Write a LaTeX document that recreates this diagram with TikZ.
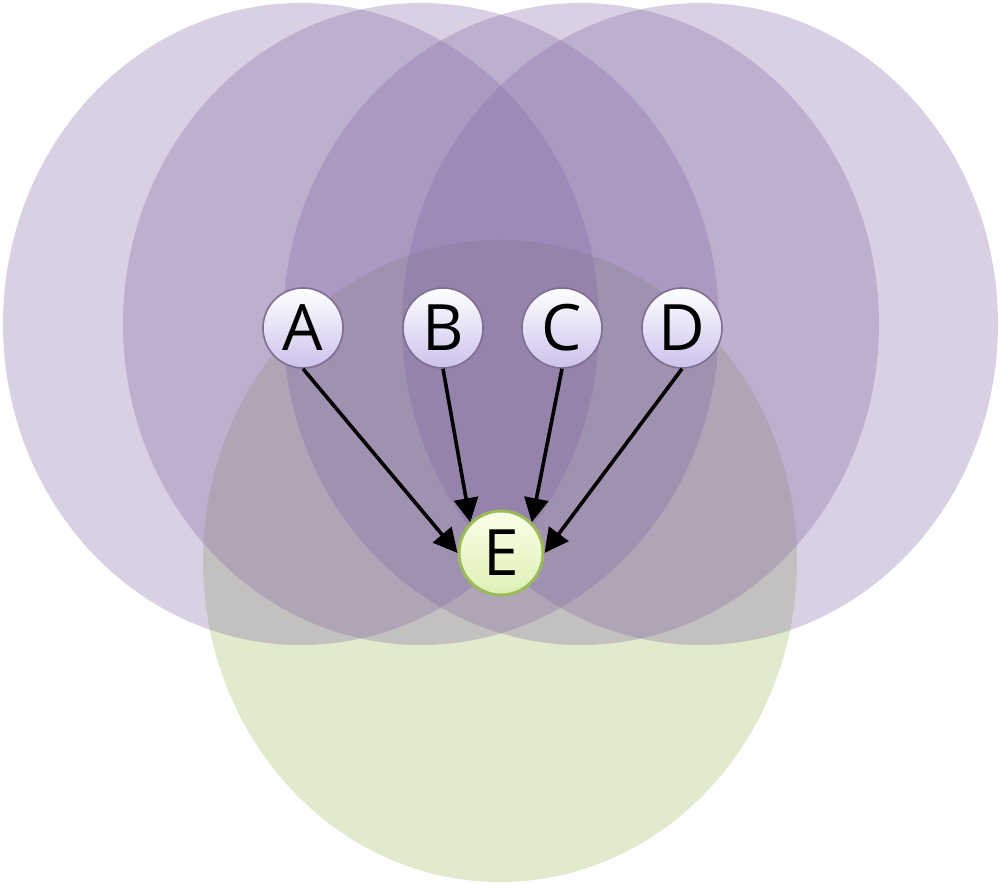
\documentclass[tikz,border=0pt]{standalone}
\usepackage{fontspec}
\setmainfont{Open Sans}
\usetikzlibrary{arrows.meta}
\definecolor{purp}{RGB}{128,100,162}
\definecolor{grn}{RGB}{155,187,89}
\definecolor{nodeline}{RGB}{125,110,145}
\definecolor{nodelow}{RGB}{205,194,236}
\definecolor{etop}{RGB}{250,255,232}
\definecolor{elow}{RGB}{222,240,180}
\begin{document}
\begin{tikzpicture}[x=0.5pt,y=-0.5pt,
  blobp/.style={fill=purp, opacity=0.3},
  blobg/.style={fill=grn, opacity=0.3},
  vnode/.style={circle, minimum size=40pt, inner sep=0pt, draw=nodeline, line width=0.8pt,
    top color=white, bottom color=nodelow, font=\fontsize{32}{36}\selectfont},
  enode/.style={circle, minimum size=42pt, inner sep=0pt, draw=grn, line width=1.5pt,
    top color=etop, bottom color=elow, font=\fontsize{32}{36}\selectfont},
  arr/.style={-{Triangle[length=12pt,width=12pt]}, line width=1.8pt, black}
]
\useasboundingbox (0,0) rectangle (1000,886);
\fill[blobg] (500,561) ellipse [x radius=148.5pt, y radius=160.5pt];
\fill[blobp] (301,324) ellipse [x radius=149pt, y radius=160.5pt];
\fill[blobp] (421,324) ellipse [x radius=149pt, y radius=160.5pt];
\fill[blobp] (581,324) ellipse [x radius=149pt, y radius=160.5pt];
\fill[blobp] (700,324) ellipse [x radius=149pt, y radius=160.5pt];
\node[vnode] (A) at (303,328) {A};
\node[vnode] (B) at (443,328) {B};
\node[vnode] (C) at (562,328) {C};
\node[vnode] (D) at (682,328) {D};
\node[enode] (E) at (501,553) {E};
\draw[arr] (A.south) -- (E.west);
\draw[arr] (B.south) -- (E.north west);
\draw[arr] (C.south) -- (E.north east);
\draw[arr] (D.south) -- (E.east);
\end{tikzpicture}
\end{document}
